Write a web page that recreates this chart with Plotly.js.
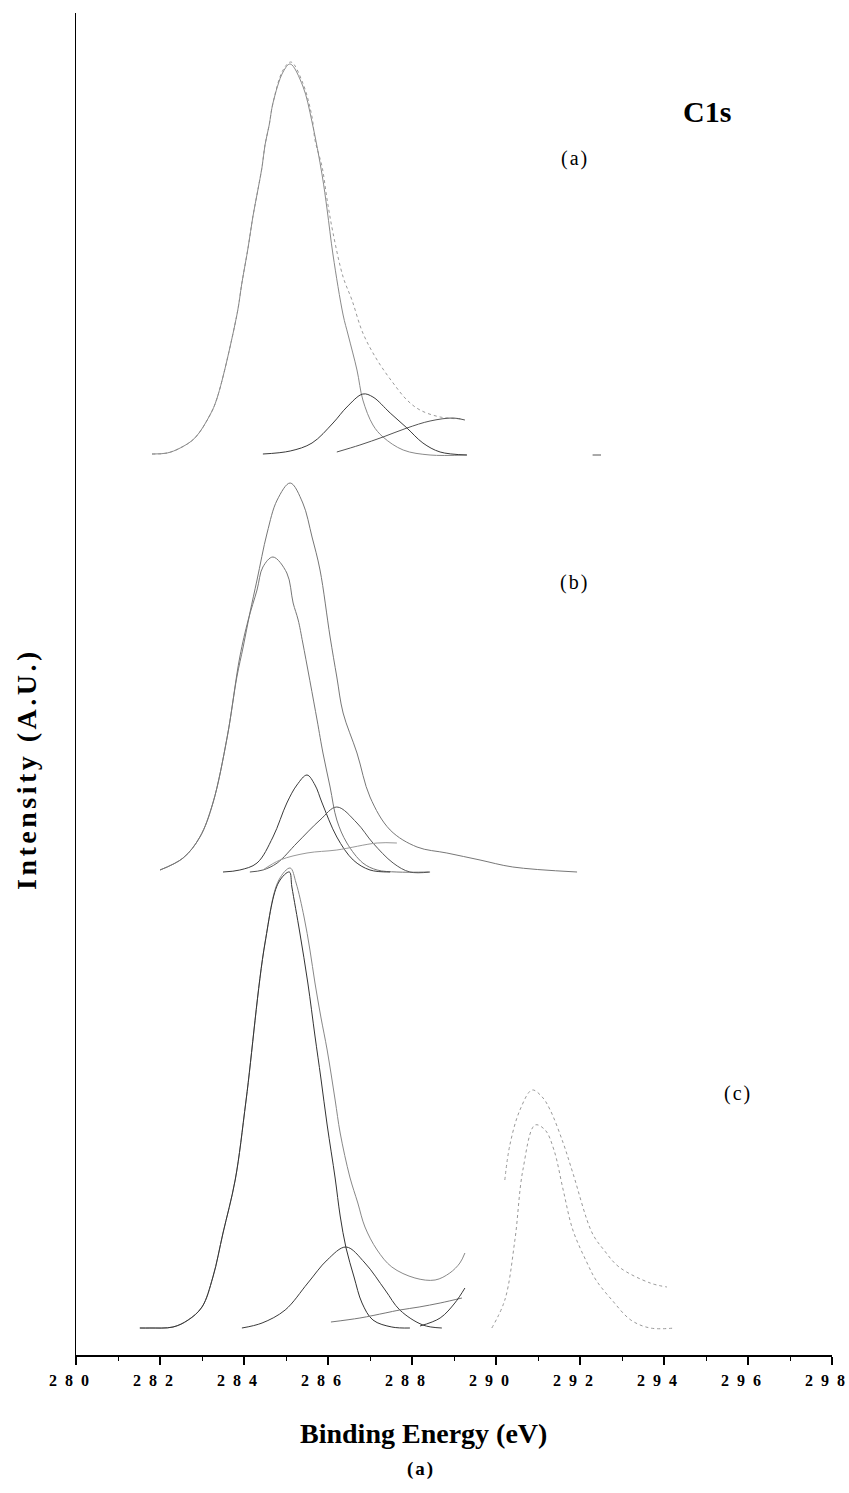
<!DOCTYPE html>
<html><head><meta charset="utf-8">
<script src="https://cdn.plot.ly/plotly-3.0.1.min.js"></script>
<style>html,body{margin:0;padding:0;background:#fff;}#chart{width:849px;height:1493px;}</style>
</head><body><div id="chart"></div>
<script>
// ---- Data (binding energy in eV, intensity above each spectrum's baseline, A.U.) ----
const tickVals = [280,282,284,286,288,290,292,294,296,298];
const tickText = ["2 8 0","2 8 2","2 8 4","2 8 6","2 8 8","2 9 0","2 9 2","2 9 4","2 9 6","2 9 8"];
const baselineOffsets = {a: 900, b: 483, c: 27};

// Spectrum (a)
const aEnvX = [281.81,282.17,282.48,282.83,283.19,283.36,283.83,283.95,284.10,284.21,284.33,284.43,284.50,284.60,284.69,284.93,285.12,285.40,285.62,285.69,285.86,285.98,286.12,286.36,286.57,286.83,287.17,287.55,287.88,288.19,288.67,289.21];
const aEnvY = [1,2,7,17,40,57,140,172,208,238,265,288,310,330,352,385,393,372,338,315,288,255,222,178,155,122,95,72,55,45,38,36];
const aMainX = [281.81,282.17,282.48,282.83,283.19,283.36,283.83,283.95,284.10,284.21,284.33,284.43,284.50,284.60,284.69,284.93,285.10,285.40,285.62,285.86,285.98,286.12,286.36,286.48,286.69,286.83,287.07,287.31,287.79,288.43,289.30];
const aMainY = [1,2,7,17,40,57,140,172,208,238,265,288,310,330,352,383,391,369,333,280,245,200,140,120,85,55,30,18,5,0,0];
const aPeak2X = [284.45,285.10,285.62,286.12,286.45,286.83,287.07,287.48,287.88,288.26,288.67,289.31];
const aPeak2Y = [1,4,12,32,48,61,58,42,27,12,3,0];
const aBgX = [286.21,286.76,287.31,287.88,288.43,288.98,289.26];
const aBgY = [3,10,18,27,34,37,35];
const aTailX = [292.30,292.50];
const aTailY = [0,0];

// Spectrum (b)
const bEnvX = [282.00,282.55,282.95,283.26,283.60,283.83,283.98,284.14,284.31,284.55,284.79,285.10,285.40,285.62,285.81,286.05,286.21,286.36,286.69,287.00,287.48,288.12,288.83,289.62,290.40,291.93];
const bEnvY = [2,14,35,69,135,195,225,259,292,339,372,389,369,335,302,235,195,159,119,75,42,25,19,12,5,0];
const bMainX = [282.00,282.55,282.95,283.26,283.60,283.90,284.10,284.31,284.45,284.69,285.02,285.17,285.29,285.40,285.74,285.88,286.05,286.21,286.45,286.83,287.17,287.64,288.40];
const bMainY = [2,14,35,69,135,215,252,282,305,315,299,269,252,229,152,119,85,52,29,9,2,0,0];
const bPeak2X = [283.50,283.90,284.31,284.69,285.02,285.26,285.50,285.69,285.86,286.21,286.60,287.00,287.48];
const bPeak2Y = [0,2,9,35,69,87,97,87,69,35,12,2,0];
const bPeak3X = [284.14,284.45,284.79,285.26,285.81,286.21,286.69,287.07,287.55,287.95,288.43];
const bPeak3Y = [0,2,9,29,52,65,49,29,9,0,0];
const bBgX = [284.45,284.86,285.50,286.21,287.17,287.64];
const bBgY = [2,12,19,22,29,29];

// Spectrum (c)
const cEnvX = [281.52,281.76,282.31,282.67,283.00,283.26,283.50,283.79,284.05,284.50,284.83,285.10,285.24,285.43,285.57,285.69,285.83,285.98,286.17,286.29,286.52,286.71,286.88,287.17,287.52,288.07,288.55,288.90,289.14,289.26];
const cEnvY = [0,0,1,8,21,51,95,148,228,385,448,460,445,411,378,345,311,278,228,195,151,125,101,78,61,50,48,55,65,75];
const cMainX = [281.52,281.76,282.31,282.67,283.00,283.26,283.50,283.79,284.05,284.50,284.83,285.08,285.14,285.33,285.52,285.69,285.83,285.98,286.17,286.29,286.43,286.62,286.81,287.07,287.52,287.95];
const cMainY = [0,0,1,8,21,51,95,148,228,385,446,456,441,395,345,292,250,203,150,112,80,51,25,8,1,0];
const cPeak2X = [283.95,284.43,284.98,285.52,285.98,286.43,286.88,287.36,287.71,288.26,288.71];
const cPeak2Y = [0,5,18,45,68,81,65,38,18,3,0];
const cBgX = [286.07,286.76,287.36,287.71,288.17,288.67,289.19];
const cBgY = [6,10,15,18,21,25,30];
const cRiseX = [288.19,288.67,289.02,289.26];
const cRiseY = [2,10,25,40];
const cHighPeakX = [289.90,290.21,290.45,290.64,290.93,291.17,291.38,291.60,291.83,292.17,292.38,292.76,293.21,293.67,294.26];
const cHighPeakY = [0,28,88,158,203,198,178,138,98,65,48,28,8,0,0];
const cHighEnvX = [290.21,290.33,290.57,290.86,291.10,291.29,291.60,291.83,292.29,292.57,292.93,293.67,294.07];
const cHighEnvY = [148,183,218,238,231,218,185,155,95,78,61,45,41];

// ---- Traces ----
function tr(x, y, off, color, dash) {
  return {x: x, y: y.map(v => v + off), type: 'scatter', mode: 'lines',
          line: {color: color, width: 1, dash: dash || 'solid', shape: 'spline', smoothing: 1},
          hoverinfo: 'skip', showlegend: false};
}
const data = [
  tr(aEnvX, aEnvY, baselineOffsets.a, '#9a9a9a', 'dot'),
  tr(aMainX, aMainY, baselineOffsets.a, '#8a8a8a'),
  tr(aPeak2X, aPeak2Y, baselineOffsets.a, '#3a3a3a'),
  tr(aBgX, aBgY, baselineOffsets.a, '#555'),
  tr(aTailX, aTailY, baselineOffsets.a, '#555'),
  tr(bEnvX, bEnvY, baselineOffsets.b, '#777'),
  tr(bMainX, bMainY, baselineOffsets.b, '#777'),
  tr(bPeak2X, bPeak2Y, baselineOffsets.b, '#3a3a3a'),
  tr(bPeak3X, bPeak3Y, baselineOffsets.b, '#555'),
  tr(bBgX, bBgY, baselineOffsets.b, '#999'),
  tr(cEnvX, cEnvY, baselineOffsets.c, '#888'),
  tr(cMainX, cMainY, baselineOffsets.c, '#333'),
  tr(cPeak2X, cPeak2Y, baselineOffsets.c, '#3a3a3a'),
  tr(cBgX, cBgY, baselineOffsets.c, '#777'),
  tr(cRiseX, cRiseY, baselineOffsets.c, '#3a3a3a'),
  tr(cHighPeakX, cHighPeakY, baselineOffsets.c, '#999', 'dot'),
  tr(cHighEnvX, cHighEnvY, baselineOffsets.c, '#999', 'dot')
];

const serif = 'Liberation Serif, Times New Roman, serif';
const sp = '\u00a0\u00a0';
const layout = {
  width: 849, height: 1493,
  margin: {l: 76, r: 17, t: 13, b: 138},
  paper_bgcolor: '#fff', plot_bgcolor: '#fff',
  showlegend: false,
  xaxis: {
    range: [280, 298], tickvals: tickVals,
    ticktext: tickText.map(t => t.split(' ').join(sp)),
    ticks: 'outside', ticklen: 8, tickwidth: 1.5, tickcolor: '#000',
    ticklabelshift: -7, ticklabelstandoff: 2,
    minor: {dtick: 1, tick0: 280, ticks: 'outside', ticklen: 4, tickwidth: 1, tickcolor: '#000'},
    showline: true, linecolor: '#000', linewidth: 2,
    showgrid: false, zeroline: false,
    tickfont: {family: serif, size: 16, color: '#000', weight: 'bold'}
  },
  yaxis: {
    range: [0, 1342], showline: true, linecolor: '#000', linewidth: 1.5,
    showticklabels: false, ticks: '', showgrid: false, zeroline: false
  },
  annotations: [
    {text: '<b>Binding Energy (eV)</b>', xref: 'paper', yref: 'paper', x: (423 - 76) / 756, y: (1355 - 1433) / 1342,
     showarrow: false, font: {family: serif, size: 28, color: '#000'}, xanchor: 'center', yanchor: 'middle'},
    {text: '<b>(a)</b>', xref: 'paper', yref: 'paper', x: (421 - 76) / 756, y: (1355 - 1469) / 1342,
     showarrow: false, font: {family: serif, size: 19, color: '#000'}, xanchor: 'center', yanchor: 'middle'},
    {text: '<b>Intensity (A.U.)</b>', xref: 'paper', yref: 'paper', x: (26 - 76) / 756, y: (1355 - 769) / 1342, textangle: -90,
     showarrow: false, font: {family: serif, size: 28, color: '#000'}, xanchor: 'center', yanchor: 'middle'},
    {text: '<b>C1s</b>', xref: 'x', yref: 'y', x: 295.02, y: 1244,
     showarrow: false, font: {family: serif, size: 30, color: '#000'}, xanchor: 'center', yanchor: 'middle'},
    {text: '(a)', xref: 'x', yref: 'y', x: 291.88, y: 1197,
     showarrow: false, font: {family: serif, size: 20, color: '#000'}, xanchor: 'center', yanchor: 'middle'},
    {text: '(b)', xref: 'x', yref: 'y', x: 291.88, y: 773,
     showarrow: false, font: {family: serif, size: 20, color: '#000'}, xanchor: 'center', yanchor: 'middle'},
    {text: '(c)', xref: 'x', yref: 'y', x: 295.76, y: 262,
     showarrow: false, font: {family: serif, size: 20, color: '#000'}, xanchor: 'center', yanchor: 'middle'}
  ]
};
Plotly.newPlot('chart', data, layout, {staticPlot: true, displayModeBar: false}).then(() => {
  document.querySelectorAll('.annotation-text').forEach(el => {
    if (el.textContent === 'Intensity (A.U.)') el.style.letterSpacing = '3.5px';
    if (el.textContent === '(a)' || el.textContent === '(b)' || el.textContent === '(c)') el.style.letterSpacing = '2px';
  });
});
</script>
</body></html>
